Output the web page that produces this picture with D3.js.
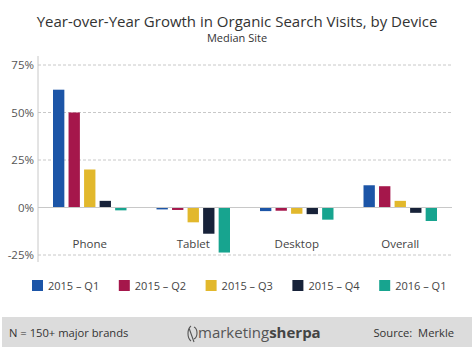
<!DOCTYPE html>
<html>
<head>
<meta charset="utf-8">
<script src="https://cdn.jsdelivr.net/npm/d3@7"></script>
<style>
  body { margin: 0; background: #fff; }
  svg { display: block; font-family: "Open Sans", sans-serif; }
</style>
</head>
<body>
<script>
var w = 474;
var h = 349;

// data
var devices = ["Phone", "Tablet", "Desktop", "Overall"];
var quarters = ["2015 – Q1", "2015 – Q2", "2015 – Q3", "2015 – Q4", "2016 – Q1"];
var colors = ["#1c55a7", "#a5174b", "#e2b82c", "#172239", "#17a48f"];
var phone   = [62, 50, 20, 3.5, -1.5];
var tablet  = [-1, -1.3, -7.8, -13.8, -23.7];
var desktop = [-1.9, -1.7, -3.3, -3.5, -6.4];
var overall = [11.7, 11.2, 3.5, -2.8, -7.1];
var yTicks = [-25, 0, 25, 50, 75];

var growth = [phone, tablet, desktop, overall];

var svg = d3.select("body")
    .append("svg")
    .attr("width", w)
    .attr("height", h);

svg.append("rect")
    .attr("x", 0).attr("y", 0)
    .attr("width", w).attr("height", h)
    .attr("fill", "#fff");

// title
svg.append("text")
    .attr("x", 237).attr("y", 27)
    .attr("text-anchor", "middle")
    .attr("font-size", 15)
    .attr("fill", "#333")
    .text("Year-over-Year Growth in Organic Search Visits, by Device");
svg.append("text")
    .attr("x", 237).attr("y", 42)
    .attr("text-anchor", "middle")
    .attr("font-size", 11)
    .attr("fill", "#333")
    .text("Median Site");

var y = d3.scaleLinear()
    .domain([-25, 75])
    .range([255, 65]);

var x0 = d3.scaleBand()
    .domain(devices)
    .range([38, 452])
    .paddingInner(0.29)
    .paddingOuter(0.145);

var x1 = d3.scaleBand()
    .domain(d3.range(quarters.length))
    .range([0, x0.bandwidth()])
    .paddingInner(0.27);

// gridlines
svg.selectAll(".grid")
    .data(yTicks.filter(function(d) { return d != 0; }))
    .enter()
    .append("line")
    .attr("x1", 38).attr("x2", 452)
    .attr("y1", function(d) { return y(d); })
    .attr("y2", function(d) { return y(d); })
    .attr("stroke", "#c8c8c8")
    .attr("stroke-dasharray", "3,2");

var yAxis = svg.append("g")
    .attr("transform", "translate(38,0)")
    .call(d3.axisLeft(y).tickValues(yTicks).tickSize(0).tickPadding(4)
        .tickFormat(function(d) { return d + "%"; }));
yAxis.select(".domain").attr("stroke", "#c8c8c8").attr("d", "M0,56V262");
yAxis.selectAll("text")
    .attr("font-family", "Open Sans, sans-serif")
    .attr("font-size", 11.5)
    .attr("fill", "#555");

// bars
var groups = svg.selectAll(".device")
    .data(devices)
    .enter()
    .append("g")
    .attr("transform", function(d) { return "translate(" + x0(d) + ",0)"; });

groups.selectAll("rect")
    .data(function(d, i) { return growth[i]; })
    .enter()
    .append("rect")
    .attr("x", function(d, i) { return x1(i); })
    .attr("y", function(d) { return y(Math.max(0, d)); })
    .attr("width", x1.bandwidth())
    .attr("height", function(d) { return Math.abs(y(d) - y(0)); })
    .attr("fill", function(d, i) { return colors[i]; });

// zero line
svg.append("line")
    .attr("x1", 38).attr("x2", 452)
    .attr("y1", y(0)).attr("y2", y(0))
    .attr("stroke", "#c8c8c8");

// category labels
svg.selectAll(".cat")
    .data(devices)
    .enter()
    .append("text")
    .attr("x", function(d) { return x0(d) + x0.bandwidth() / 2; })
    .attr("y", 248)
    .attr("text-anchor", "middle")
    .attr("font-size", 11.5)
    .attr("fill", "#444")
    .text(function(d) { return d; });

// legend
var legend = svg.selectAll(".legend")
    .data(quarters)
    .enter()
    .append("g")
    .attr("transform", function(d, i) { return "translate(" + (32 + i * 86.8) + ",280)"; });
legend.append("rect")
    .attr("width", 11).attr("height", 11)
    .attr("fill", function(d, i) { return colors[i]; });
legend.append("text")
    .attr("x", 16).attr("y", 10)
    .attr("font-size", 11)
    .attr("fill", "#444")
    .text(function(d) { return d; });

// footer band
svg.append("rect")
    .attr("x", 2).attr("y", 317)
    .attr("width", w - 4).attr("height", 30)
    .attr("fill", "#dcdcdc");
svg.append("text")
    .attr("x", 9).attr("y", 337)
    .attr("font-size", 11.2)
    .attr("fill", "#333")
    .text("N = 150+ major brands");
svg.append("text")
    .attr("x", 454).attr("y", 337)
    .attr("text-anchor", "end")
    .attr("font-size", 11.2)
    .attr("fill", "#333")
    .attr("xml:space", "preserve")
    .text("Source:  Merkle");

// logo
var logo = svg.append("g").attr("transform", "translate(186,326)");
logo.append("path")
    .attr("d", "M5,0 C1,3 1,12 5,15 M3,2 L8,16 M8,1 C12,3 12,11 8,13")
    .attr("fill", "none")
    .attr("stroke", "#555")
    .attr("stroke-width", 1.1);
var logoText = logo.append("text")
    .attr("x", 12).attr("y", 12)
    .attr("font-size", 15)
    .attr("fill", "#555");
logoText.append("tspan").text("marketing");
logoText.append("tspan").attr("font-weight", "bold").attr("fill", "#444").text("sherpa");
</script>
</body>
</html>
